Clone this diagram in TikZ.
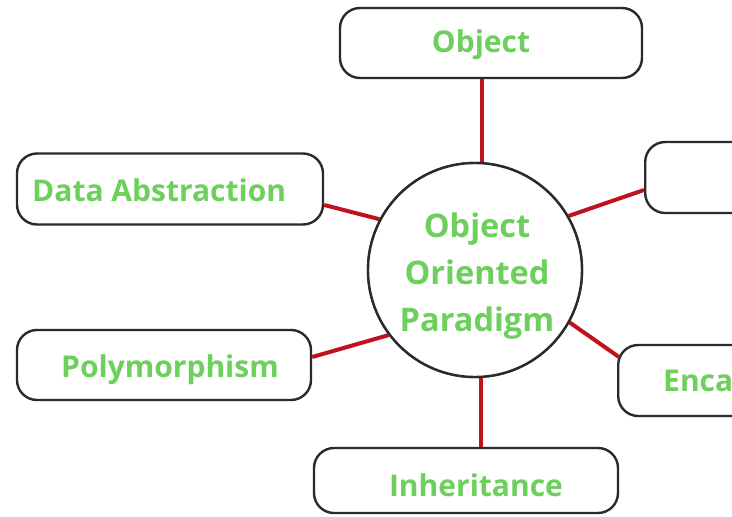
\documentclass[tikz,border=0pt]{standalone}
\usepackage{fontspec}
\setmainfont{Open Sans}
\usetikzlibrary{calc}
\definecolor{lbl}{HTML}{6DCF5C}
\definecolor{link}{HTML}{C0121C}
\definecolor{edge}{HTML}{2A2A2A}
\tikzset{
  box/.style={draw=edge, line width=2.4pt, rounded corners=20pt, fill=white, inner sep=0pt},
  lab/.style={text=lbl, font=\fontsize{30}{34}\selectfont\bfseries, inner sep=0pt},
  hub/.style={circle, draw=edge, line width=2.4pt, fill=white, minimum size=214pt, inner sep=0pt},
  hubtext/.style={text=lbl, font=\fontsize{32.5}{47}\selectfont\bfseries, align=center, inner sep=0pt},
  con/.style={draw=link, line width=4pt}
}
\begin{document}
\begin{tikzpicture}[x=1pt,y=-1pt]
\useasboundingbox (0,0) rectangle (732,517);
\clip (0,0) rectangle (732,517);
% boxes
\node[box, minimum width=302pt, minimum height=70pt] (obj) at (491,43) {};
\node[box, minimum width=306pt, minimum height=71pt] (da) at (170,189) {};
\node[box, minimum width=200pt, minimum height=71pt, anchor=west] (ru) at (644,177.5) {};
\node[box, minimum width=294pt, minimum height=70pt] (poly) at (164,365) {};
\node[box, minimum width=200pt, minimum height=71pt, anchor=west] (enc) at (617,380.5) {};
\node[box, minimum width=304pt, minimum height=65pt] (inh) at (466,480.5) {};
% hub (coordinates for connectors)
\node[hub] (c) at (475,270) {};
% connectors
\coordinate (ctop) at ($(c.north)+(7,12)$);
\coordinate (cbot) at ($(c.south)+(6,-12)$);
\draw[con] (ctop) -- (ctop |- obj.south);
\draw[con] (c.152) -- ($(da.east)+(0,16)$);
\draw[con] (c.30) -- ($(ru.west)+(0,12.5)$);
\draw[con] (c.217) -- ($(poly.east)+(0,-8)$);
\draw[con] (c.-29) -- ($(enc.west)+(2,-23.5)$);
\draw[con] (cbot) -- (cbot |- inh.north);
% hub drawn on top of the connector ends
\node[hub] (c2) at (475,270) {};
\node[hubtext] (hubtxt) at (477,276) {Object\\Oriented\\Paradigm};
% labels
\node[lab] (tobj) at (481,45) {Object};
\node[lab, anchor=west] (tda) at (32,190) {Data Abstraction};
\node[lab] (tpoly) at (170,370) {Polymorphism};
\node[lab, anchor=west] (tenc) at (663,384) {Encapsulation};
\node[lab] (tinh) at (476,485) {Inheritance};
\end{tikzpicture}
\end{document}
